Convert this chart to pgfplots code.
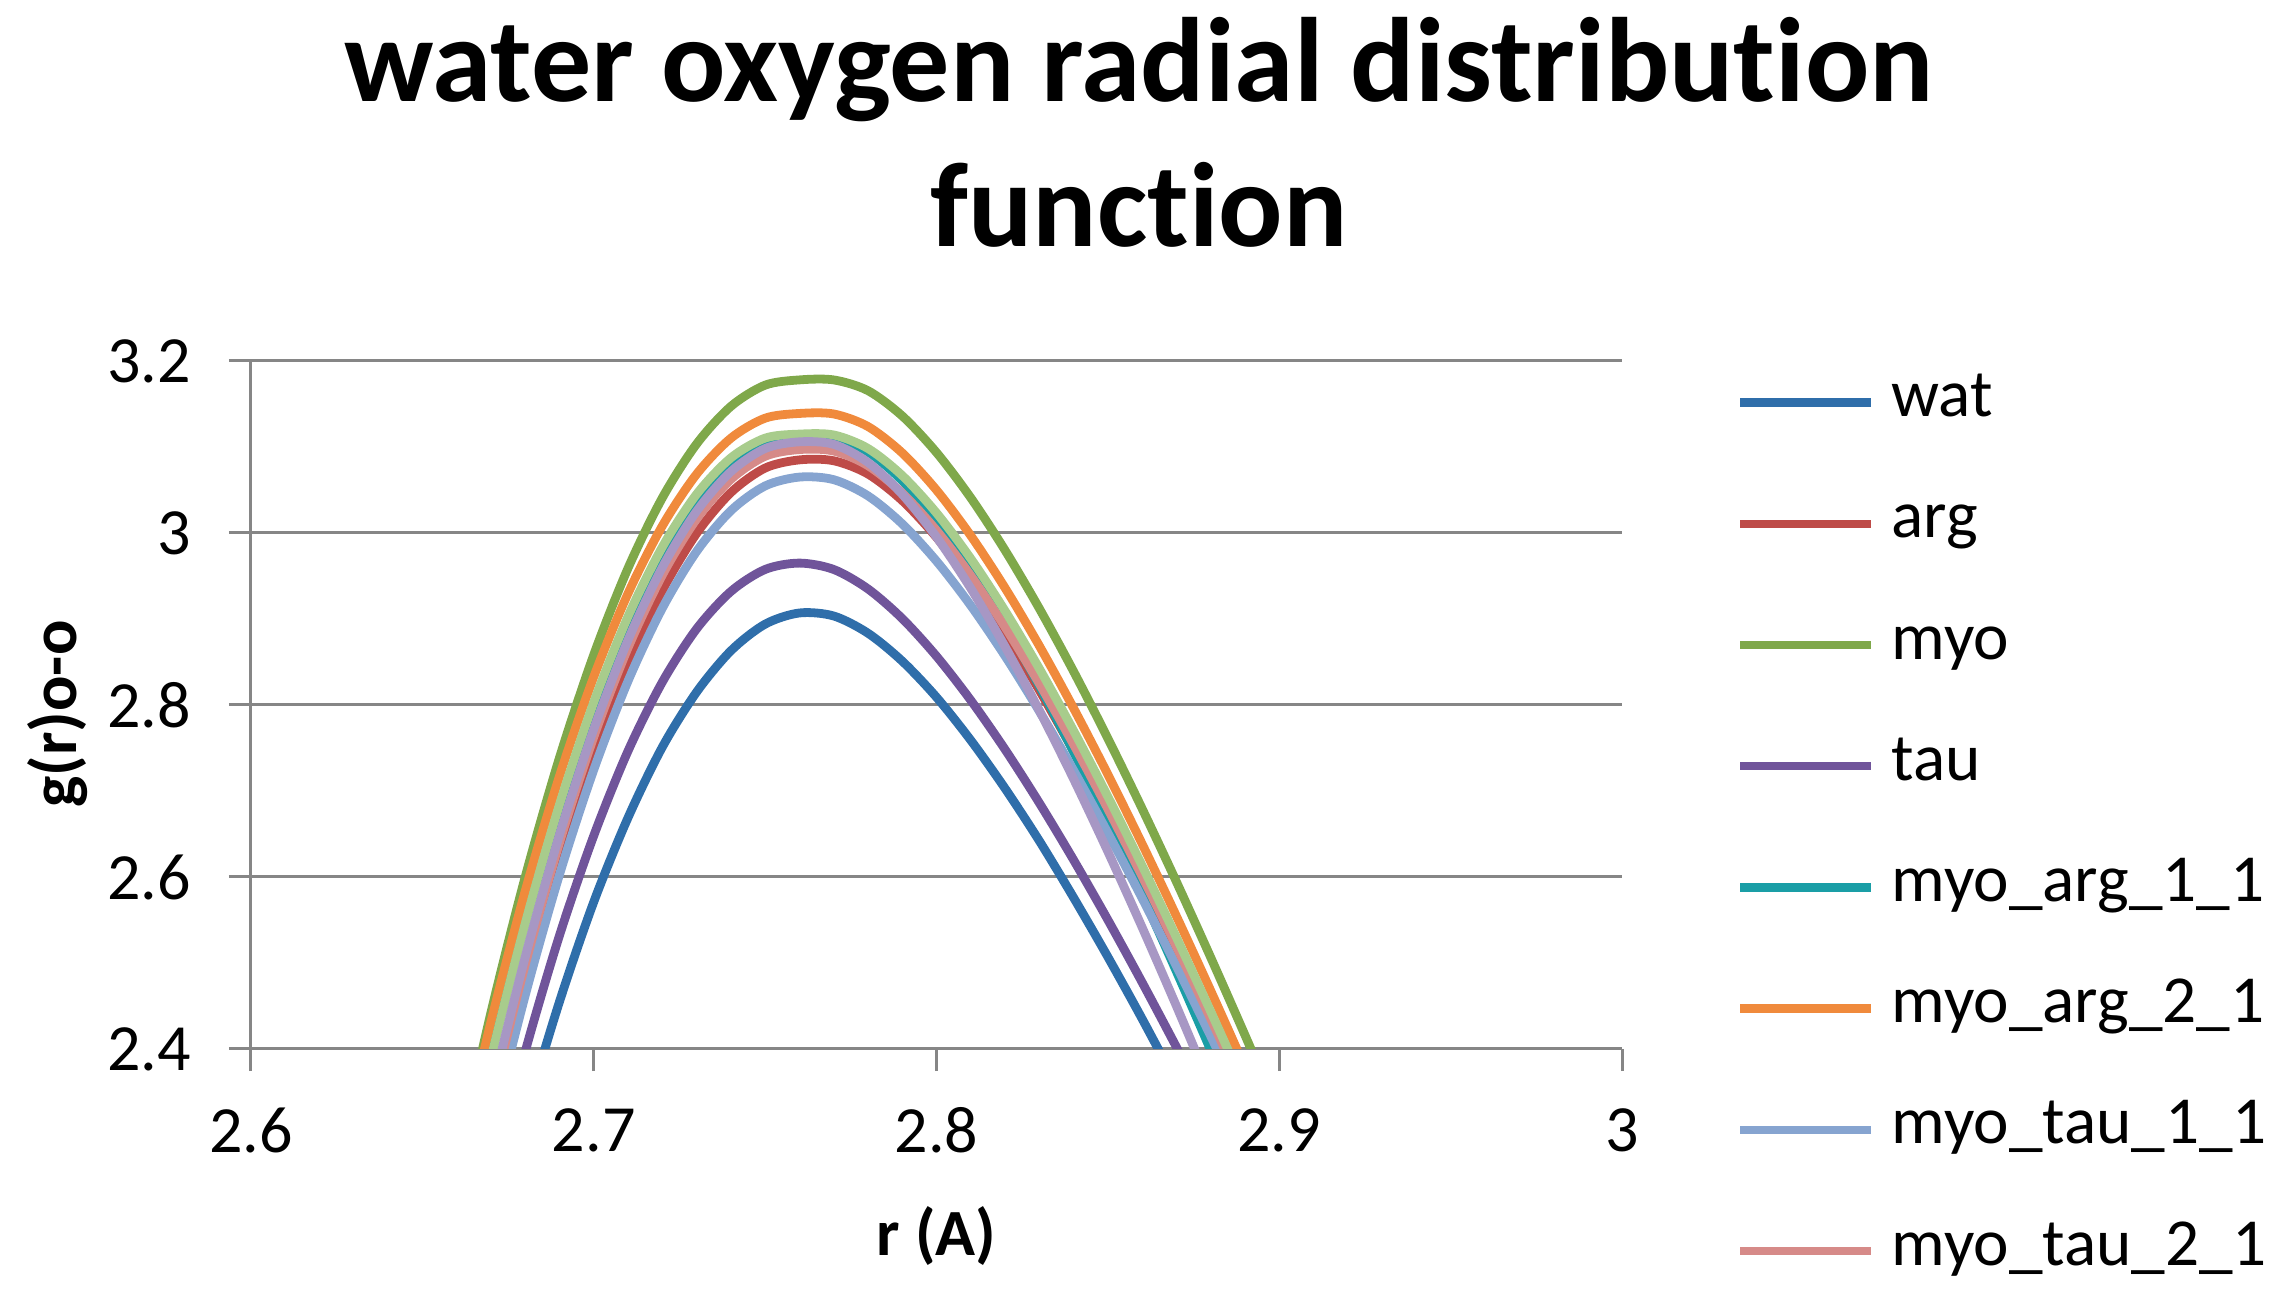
\documentclass[border=0pt]{standalone}
\usepackage{fontspec}
\setmainfont{Carlito}[Ligatures={NoCommon}]
\usepackage{pgfplots}
\pgfplotsset{compat=1.18}
\definecolor{cwat}{HTML}{2F6EAA}
\definecolor{carg}{HTML}{BE4B48}
\definecolor{cmyo}{HTML}{7FA84A}
\definecolor{ctau}{HTML}{70549A}
\definecolor{cma11}{HTML}{1A9EA6}
\definecolor{cma21}{HTML}{F08A3C}
\definecolor{cmt11}{HTML}{86A4D0}
\definecolor{cmt21}{HTML}{D68A88}
\definecolor{csage}{HTML}{A8CC8C}
\definecolor{clav}{HTML}{A797C4}
\definecolor{gridc}{HTML}{868686}
\begin{document}
\begin{tikzpicture}
\begin{axis}[
  scale only axis, width=342.75pt, height=172pt,
  at={(0,0)}, anchor=south west,
  xmin=2.6, xmax=3, ymin=2.4, ymax=3.2,
  xtick={2.6,2.7,2.8,2.9,3}, ytick={2.4,2.6,2.8,3,3.2},
  axis x line*=bottom, axis y line*=left,
  axis line style={draw=gridc, line width=0.75pt, -},
  tick style={draw=gridc, line width=0.75pt},
  tick align=outside, major tick length=5.5pt,
  ymajorgrids, grid style={draw=gridc, line width=0.75pt},
  /pgf/number format/assume math mode=true,
  tick label style={font=\fontsize{16.5}{19}\selectfont, inner sep=0pt},
  xticklabel style={anchor=center, yshift=-14.8pt},
  yticklabel style={anchor=east, xshift=-9.3pt},
  every axis y label/.style={at={(axis description cs:-0.1408,0.487)}, rotate=90, anchor=center, font=\fontsize{16.5}{19}\selectfont\bfseries},
  every axis x label/.style={at={(axis description cs:0.5,-0.272)}, anchor=center, font=\fontsize{16.5}{19}\selectfont\bfseries},
  xlabel={r (A)}, ylabel={g(r)o-o},
  legend cell align=left,
  legend image code/.code={\draw[#1, line width=2.1pt] (0pt,0pt) -- (32.8pt,0pt);},
  legend style={draw=none, fill=none, at={(1,1)}, anchor=north west, xshift=28.3pt, yshift=-2.7pt,
    inner sep=0pt, row sep=15.3pt, column sep=4pt, font=\fontsize{16.8}{19}\selectfont,
    nodes={inner sep=0pt, text height=11pt, text depth=4pt}},
  every axis plot/.append style={smooth, line width=2.2pt, no markers},
]
\addplot[cwat] coordinates {(2.66,2.006) (2.67,2.173) (2.68,2.322) (2.69,2.455) (2.70,2.571) (2.71,2.669) (2.72,2.751) (2.73,2.815) (2.74,2.863) (2.75,2.894) (2.76,2.907) (2.77,2.9035) (2.78,2.8835) (2.79,2.851) (2.80,2.809) (2.81,2.759) (2.82,2.703) (2.83,2.642) (2.84,2.576) (2.85,2.507) (2.86,2.435) (2.87,2.360) (2.88,2.284)};
\addlegendentry{wat}
\addplot[carg] coordinates {(2.66,2.135) (2.67,2.3155) (2.68,2.477) (2.69,2.6195) (2.70,2.743) (2.71,2.8475) (2.72,2.933) (2.73,2.9995) (2.74,3.047) (2.75,3.0755) (2.76,3.085) (2.77,3.084) (2.78,3.0686) (2.79,3.0377) (2.80,2.9949) (2.81,2.9428) (2.82,2.8831) (2.83,2.8172) (2.84,2.7462) (2.85,2.6709) (2.86,2.592) (2.87,2.5101) (2.88,2.4256) (2.89,2.3387)};
\addlegendentry{arg}
\addplot[cmyo] coordinates {(2.66,2.2656) (2.67,2.4423) (2.68,2.600) (2.69,2.7387) (2.70,2.8584) (2.71,2.9591) (2.72,3.0408) (2.73,3.1035) (2.74,3.1472) (2.75,3.1719) (2.76,3.178) (2.77,3.178) (2.78,3.1655) (2.79,3.1361) (2.80,3.0936) (2.81,3.0409) (2.82,2.9799) (2.83,2.9122) (2.84,2.839) (2.85,2.7611) (2.86,2.6794) (2.87,2.5944) (2.88,2.5065) (2.89,2.4161) (2.90,2.3237)};
\addlegendentry{myo}
\addplot[ctau] coordinates {(2.66,2.073) (2.67,2.244) (2.68,2.397) (2.69,2.532) (2.70,2.648) (2.71,2.7465) (2.72,2.8266) (2.73,2.8885) (2.74,2.932) (2.75,2.9576) (2.76,2.965) (2.77,2.9576) (2.78,2.935) (2.79,2.9005) (2.80,2.8567) (2.81,2.8055) (2.82,2.7483) (2.83,2.6861) (2.84,2.6198) (2.85,2.5501) (2.86,2.4774) (2.87,2.4022) (2.88,2.3248)};
\addlegendentry{tau}
\addplot[cma11] coordinates {(2.66,2.2188) (2.67,2.3918) (2.68,2.5462) (2.69,2.682) (2.70,2.7991) (2.71,2.8977) (2.72,2.9777) (2.73,3.0391) (2.74,3.0819) (2.75,3.106) (2.76,3.112) (2.77,3.111) (2.78,3.0942) (2.79,3.0608) (2.80,3.0146) (2.81,2.9581) (2.82,2.8935) (2.83,2.8222) (2.84,2.7454) (2.85,2.664) (2.86,2.5787) (2.87,2.4901) (2.88,2.3986) (2.89,2.3047)};
\addlegendentry{myo\_arg\_1\_1}
\addplot[cma21] coordinates {(2.66,2.2608) (2.67,2.4314) (2.68,2.5836) (2.69,2.7173) (2.70,2.8327) (2.71,2.9297) (2.72,3.0082) (2.73,3.0684) (2.74,3.1102) (2.75,3.1335) (2.76,3.139) (2.77,3.1384) (2.78,3.1238) (2.79,3.0931) (2.80,3.0499) (2.81,2.9969) (2.82,2.9361) (2.83,2.8688) (2.84,2.7962) (2.85,2.7192) (2.86,2.6384) (2.87,2.5544) (2.88,2.4678) (2.89,2.3787) (2.90,2.2876)};
\addlegendentry{myo\_arg\_2\_1}
\addplot[cmt11] coordinates {(2.66,2.1257) (2.67,2.3033) (2.68,2.4623) (2.69,2.6028) (2.70,2.7246) (2.71,2.8278) (2.72,2.9125) (2.73,2.9785) (2.74,3.0259) (2.75,3.0547) (2.76,3.065) (2.77,3.062) (2.78,3.0432) (2.79,3.0106) (2.80,2.9673) (2.81,2.9156) (2.82,2.857) (2.83,2.7928) (2.84,2.724) (2.85,2.6512) (2.86,2.5752) (2.87,2.4963) (2.88,2.415) (2.89,2.3316)};
\addlegendentry{myo\_tau\_1\_1}
\addplot[cmt21] coordinates {(2.66,2.1561) (2.67,2.3366) (2.68,2.4979) (2.69,2.6399) (2.70,2.7628) (2.71,2.8665) (2.72,2.951) (2.73,3.0163) (2.74,3.0623) (2.75,3.0892) (2.76,3.097) (2.77,3.0953) (2.78,3.0783) (2.79,3.0464) (2.80,3.003) (2.81,2.9505) (2.82,2.8906) (2.83,2.8248) (2.84,2.754) (2.85,2.679) (2.86,2.6006) (2.87,2.5191) (2.88,2.4351) (2.89,2.3488)};
\addlegendentry{myo\_tau\_2\_1}
\addplot[csage, forget plot] coordinates {(2.66,2.2117) (2.67,2.3884) (2.68,2.5458) (2.69,2.6841) (2.70,2.8031) (2.71,2.9029) (2.72,2.9836) (2.73,3.045) (2.74,3.0873) (2.75,3.1103) (2.76,3.115) (2.77,3.114) (2.78,3.0983) (2.79,3.0668) (2.80,3.0233) (2.81,2.9702) (2.82,2.9094) (2.83,2.8423) (2.84,2.77) (2.85,2.6934) (2.86,2.6131) (2.87,2.5297) (2.88,2.4436) (2.89,2.3552)};
\addplot[clav, forget plot] coordinates {(2.66,2.1651) (2.67,2.3456) (2.68,2.5069) (2.69,2.6489) (2.70,2.7718) (2.71,2.8755) (2.72,2.96) (2.73,3.0253) (2.74,3.0713) (2.75,3.0982) (2.76,3.106) (2.77,3.1031) (2.78,3.0821) (2.79,3.045) (2.80,2.9953) (2.81,2.9356) (2.82,2.8679) (2.83,2.7936) (2.84,2.7139) (2.85,2.6295) (2.86,2.5414) (2.87,2.4499) (2.88,2.3556)};
\end{axis}
\node[anchor=base, font=\fontsize{30}{36}\selectfont\bfseries, inner sep=0pt] at (222pt,236.75pt) {water oxygen radial distribution};
\node[anchor=base, font=\fontsize{30}{36}\selectfont\bfseries, inner sep=0pt] at (222pt,200.5pt) {function};
\pgfresetboundingbox
\path[use as bounding box] (-62.75pt,-61pt) rectangle (506.75pt,262.25pt);
\end{tikzpicture}
\end{document}
